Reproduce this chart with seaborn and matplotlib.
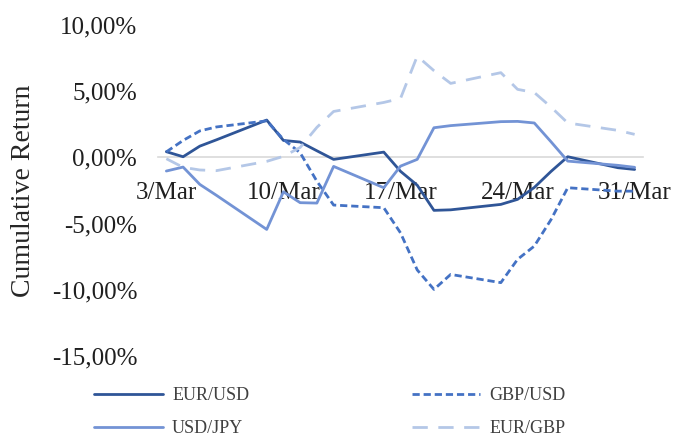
import matplotlib
matplotlib.use("Agg")
import matplotlib.pyplot as plt
import matplotlib.dates as mdates
from matplotlib.ticker import FuncFormatter, FixedLocator
import numpy as np
import pandas as pd
import seaborn as sns

# Trading days, March 2020
days = [3, 4, 5, 6, 9, 10, 11, 12, 13, 16, 17, 18, 19, 20, 23, 24, 25, 26, 27, 30, 31]

# Cumulative returns in percent
eur_usd = [0.43, 0.05, 0.85, 1.33, 2.82, 1.28, 1.16, 0.50, -0.15, 0.40, -1.05,
           -2.10, -4.00, -3.96, -3.55, -3.17, -2.27, -1.06, 0.05, -0.78, -0.91]
gbp_usd = [0.42, 1.28, 2.00, 2.30, 2.76, 1.36, 0.35, -1.80, -3.60, -3.80, -5.70,
           -8.50, -9.97, -8.84, -9.46, -7.70, -6.70, -4.70, -2.29, -2.55, -2.55]
usd_jpy = [-1.03, -0.73, -2.04, -2.87, -5.44, -2.60, -3.42, -3.45, -0.68, -2.29, -0.66,
           -0.15, 2.24, 2.40, 2.70, 2.72, 2.60, 1.18, -0.28, -0.60, -0.75]
eur_gbp = [-0.10, -0.75, -0.95, -1.00, -0.30, 0.08, 0.75, 2.27, 3.47, 4.15, 4.45,
           7.65, 6.55, 5.59, 6.40, 5.14, 4.90, 3.80, 2.60, 2.04, 1.74]

series_names = ["EUR/USD", "GBP/USD", "USD/JPY", "EUR/GBP"]
tick_days = [3, 10, 17, 24, 31]
tick_labels = ["3/Mar", "10/Mar", "17/Mar", "24/Mar", "31/Mar"]
y_ticks = [-15, -10, -5, 0, 5, 10]

dates = pd.to_datetime([f"2020-03-{d:02d}" for d in days])
wide = pd.DataFrame({"date": dates, "EUR/USD": eur_usd, "GBP/USD": gbp_usd,
                     "USD/JPY": usd_jpy, "EUR/GBP": eur_gbp})
df = wide.melt(id_vars="date", var_name="series", value_name="ret")

palette = {"EUR/USD": "#2F5597", "GBP/USD": "#4472C4",
           "USD/JPY": "#7393D5", "EUR/GBP": "#B4C7E7"}
dashes = {"EUR/USD": "", "GBP/USD": (2.6, 1.4),
          "USD/JPY": "", "EUR/GBP": (5.5, 3.8)}

sns.set_style("white")
plt.rcParams["font.family"] = ["Liberation Serif", "DejaVu Serif"]

fig = plt.figure(figsize=(6.73, 4.37), dpi=100)
ax = fig.add_axes([158 / 673, 1 - 356 / 437, (643 - 158) / 673, (356 - 25) / 437])

sns.lineplot(data=df, x="date", y="ret", hue="series", style="series",
             hue_order=series_names, style_order=series_names,
             palette=palette, dashes=dashes, linewidth=2.0, ax=ax)

handles, labels = ax.get_legend_handles_labels()
ax.get_legend().remove()

# Axis limits and ticks
x0 = pd.Timestamp("2020-03-02 12:00")
x1 = pd.Timestamp("2020-03-31 12:00")
ax.set_xlim(x0, x1)
ax.set_ylim(-15, 10)
ax.yaxis.set_major_locator(FixedLocator(y_ticks))
ax.yaxis.set_major_formatter(FuncFormatter(lambda v, p: f"{v:.2f}%".replace(".", ",")))
tick_pos = mdates.date2num(pd.to_datetime([f"2020-03-{d:02d}" for d in tick_days]))
ax.set_xticks(tick_pos)
ax.set_xticklabels(tick_labels)

for s in ["top", "right", "left"]:
    ax.spines[s].set_visible(False)
ax.spines["bottom"].set_position(("data", 0))
ax.spines["bottom"].set_color("#d9d9d9")
ax.spines["bottom"].set_linewidth(1.2)
ax.spines["bottom"].set_zorder(0.5)

ax.tick_params(axis="both", length=0, labelsize=18, colors="#1f1f1f")
ax.tick_params(axis="x", pad=18)
ax.tick_params(axis="y", pad=15)
ax.set_xlabel("")
ax.set_ylabel("")
fig.text(24 / 673, 1 - 191 / 437, "Cumulative Return", rotation=90,
         ha="center", va="center", fontsize=20, color="#262626")

# Legend rows: EUR/USD, GBP/USD | USD/JPY, EUR/GBP (matplotlib fills by column)
lookup = dict(zip(labels, handles))
leg_order = ["EUR/USD", "USD/JPY", "GBP/USD", "EUR/GBP"]
leg = fig.legend([lookup[n] for n in leg_order], leg_order, loc="center", ncol=2,
                 bbox_to_anchor=(330 / 673, 1 - 412 / 437),
                 frameon=False, fontsize=13, handlelength=3.8,
                 columnspacing=9.0, labelspacing=0.9, handletextpad=0.5)
for t in leg.get_texts():
    t.set_color("#404040")
for h in leg.get_lines():
    h.set_linewidth(2.0)

fig.savefig("out.png", dpi=100)
